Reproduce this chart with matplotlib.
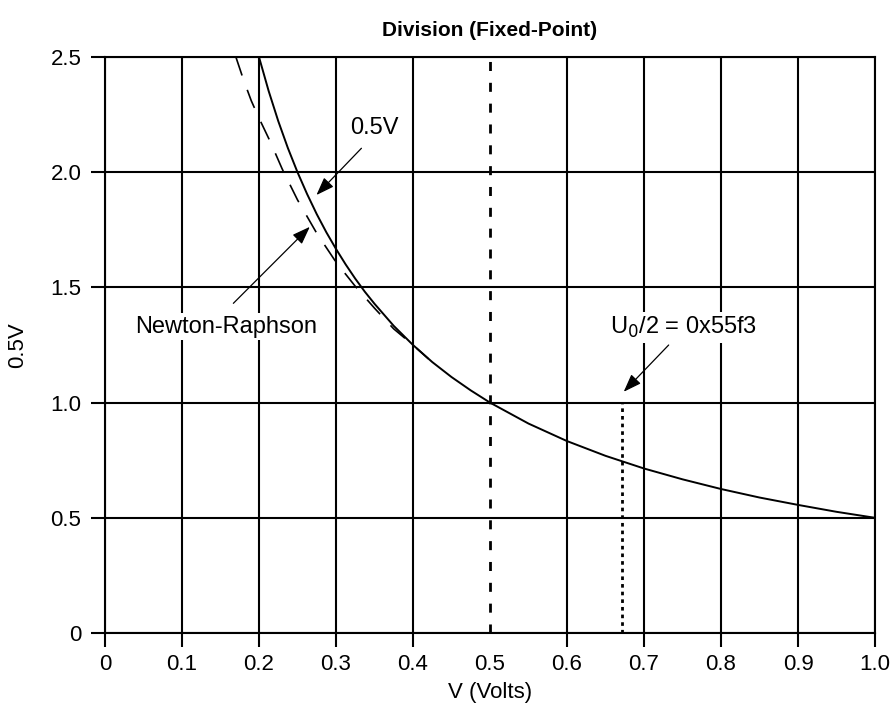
import numpy as np
import matplotlib
matplotlib.use('Agg')
import matplotlib.pyplot as plt

# exact curve 0.5/V
v_exact = [0.200, 0.2125, 0.225, 0.2375, 0.250, 0.2625, 0.275, 0.2875, 0.300, 0.3125,
           0.325, 0.3375, 0.350, 0.375, 0.400, 0.425, 0.450, 0.475, 0.500, 0.550,
           0.600, 0.650, 0.700, 0.750, 0.800, 0.850, 0.900, 0.950, 1.000]
y_exact = [2.500, 2.353, 2.222, 2.105, 2.000, 1.905, 1.818, 1.739, 1.667, 1.600,
           1.538, 1.481, 1.429, 1.333, 1.250, 1.176, 1.111, 1.053, 1.000, 0.909,
           0.833, 0.769, 0.714, 0.667, 0.625, 0.588, 0.556, 0.526, 0.500]

# Newton-Raphson approximation (dashed)
v_nr = [0.170, 0.180, 0.190, 0.200, 0.215, 0.230, 0.250, 0.275, 0.300, 0.325,
        0.350, 0.375, 0.400, 0.420]
y_nr = [2.500, 2.400, 2.310, 2.235, 2.130, 2.015, 1.880, 1.735, 1.610, 1.505,
        1.410, 1.320, 1.250, 1.190]

# markers
v_half = 0.5
v_u0 = 0.6715      # 0x55f3 / 32768
y_u0_top = 1.0

x_ticks = [0, 0.1, 0.2, 0.3, 0.4, 0.5, 0.6, 0.7, 0.8, 0.9, 1.0]
x_labels = ['0', '0.1', '0.2', '0.3', '0.4', '0.5', '0.6', '0.7', '0.8', '0.9', '1.0']
y_ticks = [0, 0.5, 1.0, 1.5, 2.0, 2.5]
y_labels = ['0', '0.5', '1.0', '1.5', '2.0', '2.5']

plt.rcParams['font.family'] = ['Liberation Sans', 'DejaVu Sans']
plt.rcParams['font.size'] = 16
plt.rcParams['lines.scale_dashes'] = False

fig = plt.figure(figsize=(8.92, 7.13), dpi=100)
ax = fig.add_axes([0.1177, 0.1122, 0.981 - 0.1177, 0.920 - 0.1122])

grid_lw = 1.5
ax.set_xlim(0, 1.0)
ax.set_ylim(0, 2.5)
ax.set_xticks(x_ticks)
ax.set_xticklabels(x_labels)
ax.set_yticks(y_ticks)
ax.set_yticklabels(y_labels)
ax.tick_params(direction='out', length=10, width=grid_lw, color='black', pad=5,
               labelsize=16)
ax.tick_params(axis='y', pad=7)
ax.grid(True, color='black', linewidth=grid_lw, zorder=0)
ax.set_axisbelow(True)
for s in ax.spines.values():
    s.set_linewidth(grid_lw)
    s.set_color('black')

# no gridline / tick at 0.5 -- replaced by dashed line
for t in ax.xaxis.get_major_ticks():
    if abs(t.get_loc() - v_half) < 1e-6:
        t.gridline.set_visible(False)
        t.tick1line.set_visible(False)

# curves
ax.plot(v_nr, y_nr, color='black', linewidth=1.2, dashes=(14, 11), zorder=3)
ax.plot(v_exact, y_exact, color='black', linewidth=1.4, zorder=4)

ax.plot([v_half, v_half], [0, 2.5], color='black', linewidth=2.0,
        dashes=(6.5, 8.5), zorder=3)
ax.plot([v_u0, v_u0], [0, y_u0_top], color='black', linewidth=2.0,
        dashes=(2.6, 2.9), zorder=3)

arrow = dict(arrowstyle='-|>,head_length=0.55,head_width=0.2', color='black',
             lw=0.9, shrinkA=0, shrinkB=0, mutation_scale=20)
box = dict(facecolor='white', edgecolor='none', pad=2)

ax.annotate('', xy=(0.2746, 1.901), xytext=(0.333, 2.104), arrowprops=arrow)
ax.text(0.35, 2.19, '0.5V', ha='center', va='center', fontsize=17, bbox=box, zorder=5)

ax.annotate('', xy=(0.266, 1.763), xytext=(0.1667, 1.431), arrowprops=arrow)
ax.text(0.157, 1.33, 'Newton-Raphson', ha='center', va='center', fontsize=17,
        bbox=box, zorder=5)

ax.annotate('', xy=(0.6736, 1.047), xytext=(0.732, 1.25), arrowprops=arrow)
ax.text(0.751, 1.325, r'U$_0$/2 = 0x55f3', ha='center', va='center', fontsize=17,
        bbox=box, zorder=5)

ax.set_title('Division (Fixed-Point)', fontweight='bold', fontsize=15, pad=15)
ax.set_xlabel('V (Volts)', fontsize=16)
ax.set_ylabel('0.5V', fontsize=16)
ax.xaxis.set_label_coords(0.5, -0.085)
ax.yaxis.set_label_coords(-0.100, 0.5)

plt.savefig('out.png', dpi=100)
plt.close()
